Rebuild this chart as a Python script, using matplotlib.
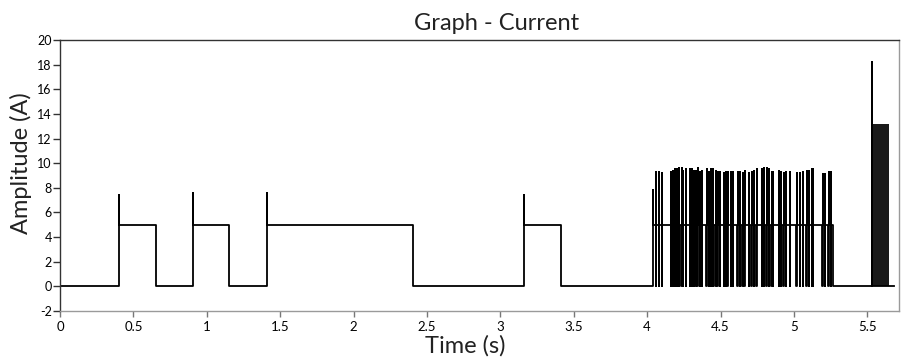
import numpy as np
import matplotlib.pyplot as plt

plt.rcParams["font.family"] = ["Lato", "DejaVu Sans"]
plt.rcParams["axes.unicode_minus"] = False

# square pulses: rise time, fall time, overshoot peak, plateau level
pulse_on = [0.404, 0.904, 1.408, 3.161]
pulse_off = [0.652, 1.153, 2.407, 3.410]
pulse_peak = [7.45, 7.55, 7.55, 7.45]
plateau = 5.0

# fast switching burst (4.0 s .. 5.27 s)
burst_on = [4.042, 4.060, 4.083, 4.103, 4.162, 4.178, 4.192, 4.205, 4.219, 4.235,
            4.246, 4.264, 4.292, 4.307, 4.321, 4.332, 4.344, 4.360, 4.375, 4.405,
            4.423, 4.435, 4.450, 4.466, 4.480, 4.496, 4.523, 4.537, 4.550, 4.571,
            4.587, 4.616, 4.632, 4.650, 4.664, 4.696, 4.712, 4.728, 4.746, 4.782,
            4.796, 4.814, 4.832, 4.848, 4.859, 4.900, 4.914, 4.930, 4.946, 4.973,
            5.018, 5.041, 5.063, 5.086, 5.104, 5.125, 5.130, 5.196, 5.214, 5.237,
            5.252]
burst_peak = [7.8, 9.3, 9.3, 9.2, 9.3, 9.4, 9.5, 9.5, 9.6, 9.6,
              9.4, 9.5, 9.5, 9.5, 9.4, 9.4, 9.6, 9.3, 9.4, 9.5,
              9.3, 9.5, 9.5, 9.4, 9.3, 9.3, 9.2, 9.3, 9.3, 9.3,
              9.3, 9.3, 9.3, 9.2, 9.4, 9.2, 9.3, 9.4, 9.5, 9.5,
              9.6, 9.6, 9.5, 9.3, 9.3, 9.4, 9.3, 9.2, 9.3, 9.3,
              9.2, 9.2, 9.3, 9.4, 9.4, 9.5, 9.5, 9.1, 9.1, 9.3,
              9.3]
burst_end = 5.268

# final high-current block
block_start, block_end = 5.530, 5.650
block_level = 13.2
block_spike = 18.2
t_end = 5.68

# build the step waveform
t, y = [0.0], [0.0]
for on, off, pk in zip(pulse_on, pulse_off, pulse_peak):
    t += [on, on, on, off, off]
    y += [0.0, pk, plateau, plateau, 0.0]
for i, (on, pk) in enumerate(zip(burst_on, burst_peak)):
    nxt = burst_on[i + 1] if i + 1 < len(burst_on) else burst_end + 0.003
    off = nxt - 0.003
    t += [on, on, on, off, off]
    y += [0.0, pk, plateau, plateau, 0.0]
t += [block_start, block_start, block_start]
y += [0.0, block_spike, 0.0]
t += [block_end, t_end]
y += [0.0, 0.0]

fig = plt.figure(figsize=(9.04, 3.63), dpi=100, facecolor="white")
ax = fig.add_axes([0.0664, 0.1433, 0.928, 0.7465])

ax.plot(t, y, color="black", linewidth=1.3)
ax.fill_between([block_start, block_end], 0, block_level, color="#1a1a1a", linewidth=0)

ax.set_xlim(0, 5.715)
ax.set_ylim(-2, 20)
ax.set_xticks(np.arange(0, 5.6, 0.5))
ax.set_xticklabels(["0", "0.5", "1", "1.5", "2", "2.5", "3", "3.5", "4", "4.5", "5", "5.5"])
ax.set_yticks(np.arange(-2, 21, 2))

for s in ["left", "top"]:
    ax.spines[s].set_color("#333333")
for s in ["bottom", "right"]:
    ax.spines[s].set_color("#9a9a9a")
for s in ax.spines.values():
    s.set_linewidth(1.0)
ax.tick_params(axis="y", length=5, width=1, color="#333333", labelsize=9, pad=1)
ax.tick_params(axis="x", length=4, width=1, color="#777777", labelsize=9.5, pad=3)

ax.set_title("Graph - Current", fontsize=17, color="#222222", pad=7, x=0.52)
ax.set_xlabel("Time (s)", fontsize=17, color="#222222", labelpad=2, x=0.483)
ax.set_ylabel("Amplitude (A)", fontsize=17, color="#222222", labelpad=4, y=0.546)

plt.savefig("out.png", dpi=100)
